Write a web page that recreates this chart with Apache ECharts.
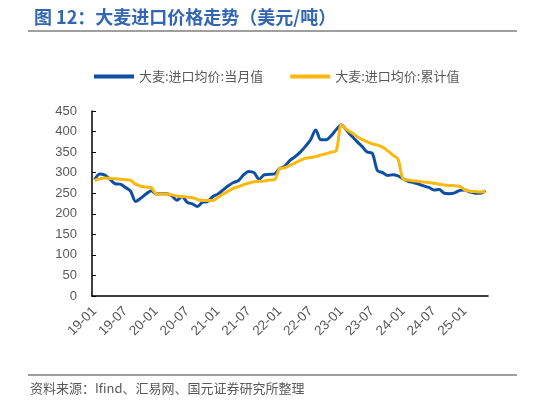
<!DOCTYPE html>
<html>
<head>
    <meta charset="utf-8">
    <title>大麦进口价格走势</title>
    <script src="https://cdn.jsdelivr.net/npm/echarts@6/dist/echarts.min.js"></script>
    <style>
        html, body { margin: 0; padding: 0; background: #fff; }
        #main { width: 536px; height: 403px; }
    </style>
</head>
<body>
    <div id="main"></div>
    <script type="text/javascript">
        // month labels, 2019-01 .. 2025-05
        var months = [
            '19-01', '19-02', '19-03', '19-04', '19-05', '19-06', '19-07', '19-08', '19-09', '19-10', '19-11', '19-12',
            '20-01', '20-02', '20-03', '20-04', '20-05', '20-06', '20-07', '20-08', '20-09', '20-10', '20-11', '20-12',
            '21-01', '21-02', '21-03', '21-04', '21-05', '21-06', '21-07', '21-08', '21-09', '21-10', '21-11', '21-12',
            '22-01', '22-02', '22-03', '22-04', '22-05', '22-06', '22-07', '22-08', '22-09', '22-10', '22-11', '22-12',
            '23-01', '23-02', '23-03', '23-04', '23-05', '23-06', '23-07', '23-08', '23-09', '23-10', '23-11', '23-12',
            '24-01', '24-02', '24-03', '24-04', '24-05', '24-06', '24-07', '24-08', '24-09', '24-10', '24-11', '24-12',
            '25-01', '25-02', '25-03', '25-04', '25-05'
        ];

        // 大麦:进口均价:当月值 (USD/t)
        var monthly = [
            283, 297, 294, 284, 273, 272, 264, 255, 230, 238, 248, 256,
            248, 249, 249, 244, 233, 242, 228, 224, 218, 228, 230, 242,
            248, 258, 268, 276, 281, 295, 303, 300, 284, 295, 296, 297,
            310, 316, 330, 339, 350, 364, 380, 404, 380, 380, 390, 405,
            416, 403, 389, 376, 364, 350, 347, 305, 300, 293, 295, 292,
            285, 279, 276, 272, 268, 264, 258, 259, 250, 249, 251, 257,
            258, 253, 250, 250, 256
        ];

        // 大麦:进口均价:累计值 (USD/t)
        var cumulative = [
            281, 285, 287, 286, 285, 284, 283, 281, 272, 267, 265, 264,
            248, 248, 248, 246, 243, 242, 241, 239, 235, 232, 232, 232,
            240, 248, 255, 262, 266, 271, 275, 278, 279, 280, 282, 283,
            310, 312, 318, 324, 330, 335, 337, 339, 343, 346, 350, 354,
            416, 405, 397, 388, 381, 375, 370, 367, 362, 353, 343, 333,
            284, 282, 280, 279, 277, 276, 274, 272, 270, 269, 268, 267,
            258, 255, 254, 253, 254
        ];

        var seriesNames = ['大麦:进口均价:当月值', '大麦:进口均价:累计值'];

        var myChart = echarts.init(document.getElementById('main'));

        var gray = '#595959';
        var font = '"Liberation Sans", Arial, sans-serif';

        var option = {
            animation: false,
            backgroundColor: '#fff',
            title: {
                text: '图 12：大麦进口价格走势（美元/吨）',
                left: 29,
                top: 3,
                textStyle: {
                    color: '#3366B0',
                    fontSize: 18,
                    fontWeight: 'bold',
                    fontFamily: '"Noto Sans CJK SC", sans-serif'
                }
            },
            graphic: [
                {
                    type: 'line',
                    shape: { x1: 28, y1: 31, x2: 517, y2: 31 },
                    style: { stroke: '#7f7f7f', lineWidth: 1.5 }
                },
                {
                    type: 'line',
                    shape: { x1: 28, y1: 375, x2: 517, y2: 375 },
                    style: { stroke: '#7f7f7f', lineWidth: 1.5 }
                },
                {
                    type: 'text',
                    left: 30,
                    top: 382,
                    style: {
                        text: '资料来源：Ifind、汇易网、国元证券研究所整理',
                        fill: gray,
                        font: '13px "Noto Sans CJK SC", sans-serif'
                    }
                }
            ],
            legend: {
                top: 65,
                left: 89,
                itemGap: 27,
                itemWidth: 40,
                itemHeight: 4,
                icon: 'rect',
                data: seriesNames,
                textStyle: {
                    color: gray,
                    fontSize: 13,
                    fontFamily: '"Noto Sans CJK SC", sans-serif'
                }
            },
            grid: {
                left: 92,
                right: 48,
                top: 111,
                bottom: 107,
                containLabel: false
            },
            xAxis: {
                type: 'category',
                data: months,
                boundaryGap: true,
                axisLine: { lineStyle: { color: '#000', width: 1.5 } },
                axisTick: {
                    inside: true,
                    length: 4,
                    interval: 5,
                    lineStyle: { color: '#000' }
                },
                axisLabel: {
                    interval: 5,
                    rotate: 45,
                    color: gray,
                    fontSize: 13.5,
                    fontFamily: font,
                    margin: 13
                },
                splitLine: { show: false }
            },
            yAxis: {
                type: 'value',
                min: 0,
                max: 450,
                interval: 50,
                axisLine: { show: true, lineStyle: { color: '#000', width: 1.5 } },
                axisTick: {
                    show: true,
                    inside: true,
                    length: 4,
                    lineStyle: { color: '#000' }
                },
                axisLabel: {
                    color: gray,
                    fontSize: 13,
                    fontFamily: font,
                    margin: 15
                },
                splitLine: { show: false }
            },
            series: [
                {
                    name: seriesNames[0],
                    type: 'line',
                    data: monthly,
                    symbol: 'none',
                    smooth: 0.3,
                    lineStyle: { color: '#0E4FA3', width: 3 },
                    itemStyle: { color: '#0E4FA3' }
                },
                {
                    name: seriesNames[1],
                    type: 'line',
                    data: cumulative,
                    symbol: 'none',
                    smooth: 0.3,
                    lineStyle: { color: '#FBB80F', width: 3 },
                    itemStyle: { color: '#FBB80F' }
                }
            ]
        };

        myChart.setOption(option);
    </script>
</body>
</html>
